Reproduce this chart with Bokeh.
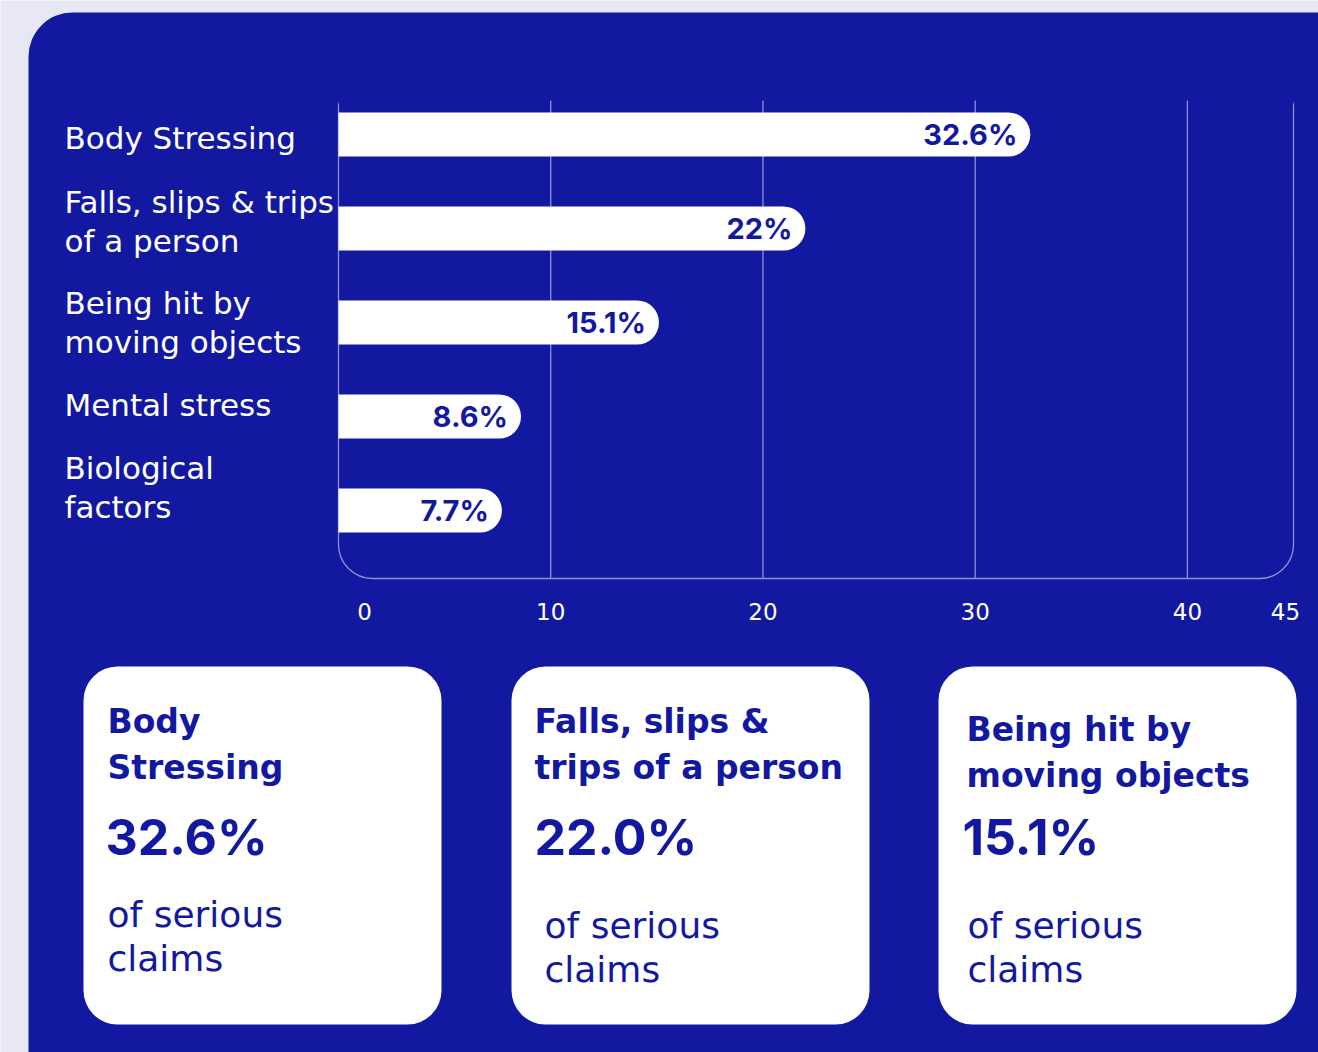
from bokeh.plotting import figure
from bokeh.models import Range1d
from bokeh.core.properties import value
from bokeh.embed import file_html
from bokeh.resources import INLINE

# ---------------- data ----------------
categories = ["Body Stressing", "Falls, slips & trips of a person",
              "Being hit by moving objects", "Mental stress", "Biological factors"]
category_lines = ["Body Stressing", "Falls, slips & trips\nof a person",
                  "Being hit by\nmoving objects", "Mental stress", "Biological\nfactors"]
shares = [32.6, 22.0, 15.1, 8.6, 7.7]
tick_values = [0, 10, 20, 30, 40, 45]
card_titles = ["Body\nStressing", "Falls, slips &\ntrips of a person", "Being hit by\nmoving objects"]
card_values = [32.6, 22.0, 15.1]
card_note = "of serious\nclaims"

# ---------------- style ----------------
FONT = value("DejaVu Sans")
FONT_NUM = value("Inter")
BLUE = "#1218a0"
BG = "#e7e8f4"
GRID = "#8d91d6"

W, H = 1318, 1052
p = figure(width=W, height=H, x_range=Range1d(0, W), y_range=Range1d(-H, 0),
           output_backend="svg", toolbar_location=None, min_border=0,
           x_axis_type=None, y_axis_type=None)
p.grid.visible = False
p.outline_line_color = None
p.background_fill_color = BG
p.border_fill_color = BG

# data scales placed over the pixel canvas
X0, X1 = 338, 1293
xmax = tick_values[-1]
k = (X1 - X0) / xmax
p.extra_x_ranges = {"val": Range1d((0 - X0) / k, (W - X0) / k)}
ROW0, ROWSTEP = 134, 94
p.extra_y_ranges = {"cat": Range1d((H - ROW0) / ROWSTEP, (0 - ROW0) / ROWSTEP)}

# big panel
p.quad(left=28, right=1600, top=-12, bottom=-1400, fill_color=BLUE, line_color=None,
       border_radius=44)

# chart frame (rounded bottom) and grid lines
p.quad(left=0, right=xmax, top=-102, bottom=-578, x_range_name="val",
       fill_color=None, line_color=GRID, line_width=1.3, border_radius=(0, 0, 34, 34))
p.segment(x0=0, x1=xmax, y0=-102, y1=-102, x_range_name="val", line_color=BLUE, line_width=4)
inner = tick_values[1:-1]
p.segment(x0=inner, x1=inner, y0=-100, y1=-578, x_range_name="val",
          line_color=GRID, line_width=1.3)

idx = list(range(len(categories)))
p.hbar(y=idx, left=0, right=shares, height=0.47, x_range_name="val", y_range_name="cat",
       fill_color="white", line_color=None, border_radius=(0, 22, 22, 0))
p.text(x=shares, y=idx, text=[f"{v:g}%" for v in shares], x_offset=-13,
       x_range_name="val", y_range_name="cat", text_align="right", text_baseline="middle",
       text_font=FONT_NUM, text_font_style="bold", text_font_size="29px", text_color=BLUE)

label_dy = [3, -7, 0, -12, -23]
p.text(x=64, y=idx, y_offset=label_dy, text=category_lines, y_range_name="cat",
       text_align="left", text_baseline="middle", text_font=FONT, text_font_size="31px",
       text_color="white", text_line_height=1.09)

tick_dx = [26, 0, 0, 0, 0, -8]
p.text(x=tick_values, y=-611, x_offset=tick_dx, text=[str(t) for t in tick_values],
       x_range_name="val", text_align="center", text_baseline="middle", text_font=FONT,
       text_font_size="23px", text_color="white")

# cards
card_left = [83, 511, 938]
card_w = 358
p.quad(left=card_left, right=[l + card_w for l in card_left], top=-666, bottom=-1024,
       fill_color="white", line_color=None, border_radius=34)
p.text(x=[107, 534, 966], y=[-744, -744, -752], text=card_titles, text_align="left",
       text_baseline="middle", text_font=FONT, text_font_style="bold", text_font_size="33px",
       text_color=BLUE, text_line_height=1.17)
p.text(x=[105, 534, 962], y=-836, text=[f"{v:.1f}%" for v in card_values], text_align="left",
       text_baseline="middle", text_font=FONT_NUM, text_font_style="bold",
       text_font_size="50px", text_color=BLUE)
p.text(x=[107, 544, 967], y=[-936, -947, -947], text=[card_note] * 3, text_align="left",
       text_baseline="middle", text_font=FONT, text_font_size="36px",
       text_color=BLUE, text_line_height=1.08)

open("out.html", "w").write(file_html(p, INLINE))
